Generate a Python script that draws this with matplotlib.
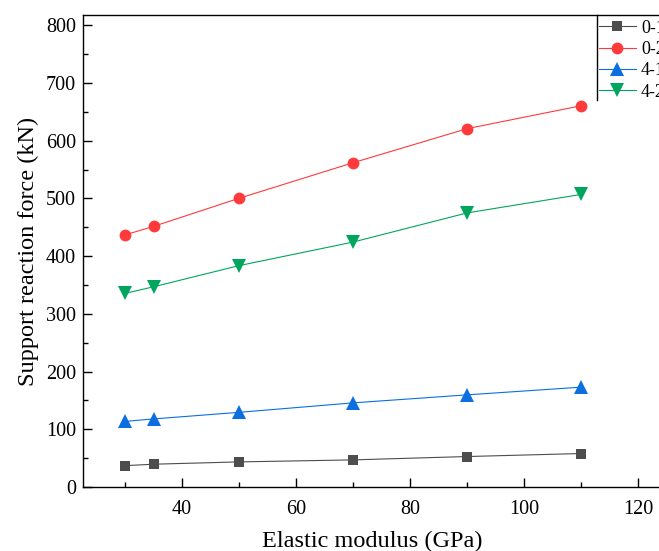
import matplotlib
matplotlib.use("Agg")
import matplotlib.pyplot as plt
from matplotlib.lines import Line2D
from matplotlib.ticker import MultipleLocator

plt.rcParams['font.family'] = ['Liberation Serif', 'DejaVu Serif']

modulus = [30, 35, 50, 70, 90, 110]
s01 = [37, 39.5, 43.5, 47, 52.8, 58]
s02 = [437, 451.7, 500.4, 562, 621, 660.7]
s41 = [113.7, 118, 129.4, 145.8, 159.7, 173]
s42 = [335.6, 347, 383.7, 424.5, 475, 507]
labels = ["0-1", "0-2", "4-1", "4-2"]

W, H = 659, 551
fig = plt.figure(figsize=(W / 100, H / 100), dpi=100)
x0, y0 = 83, 487
xmin, xmax = 22.6, 124.0
ppu = (638 - 125) / 90.0
right_px = 125 + (xmax - 30) * ppu
ax = fig.add_axes([x0 / W, 1 - y0 / H, (right_px - x0) / W, (y0 - 15) / H])

styles = [
    (s01, "#4d4d4d", "s", 7.5),
    (s02, "#ff3a3a", "o", 8.5),
    (s41, "#0b6fe0", "^", 9.5),
    (s42, "#00a65e", "v", 9.5),
]
for (vals, c, m, ms), lab in zip(styles, labels):
    ax.plot(modulus, vals, color=c, lw=0.8, marker=m, ms=ms,
            markeredgewidth=0, label=lab)

ax.set_xlim(xmin, xmax)
ax.set_ylim(0, 818)
ax.xaxis.set_major_locator(MultipleLocator(20))
ax.xaxis.set_minor_locator(MultipleLocator(10))
ax.yaxis.set_major_locator(MultipleLocator(100))
ax.yaxis.set_minor_locator(MultipleLocator(50))
ax.tick_params(which='both', direction='in', width=1.0, labelsize=14.5,
               top=False, right=False)
ax.tick_params(which='major', length=6.5)
ax.tick_params(which='minor', length=3.3)
ax.tick_params(axis='x', which='major', pad=9)
ax.tick_params(axis='y', which='major', pad=5)
for sp in ax.spines.values():
    sp.set_linewidth(1.0)
ax.spines['right'].set_visible(False)

ax.set_xlabel("Elastic modulus (GPa)", fontsize=17.5, labelpad=9)
ax.set_ylabel("Support reaction force (kN)", fontsize=17.5, labelpad=5)

leg = fig.legend(loc='upper left', bbox_to_anchor=(595 / W, 1 - 16 / H),
                 frameon=False, fontsize=13, handlelength=2.05,
                 handletextpad=0.3, labelspacing=0.24, borderaxespad=0,
                 borderpad=0.2)
fig.add_artist(Line2D([597 / W, 597 / W], [1 - 15 / H, 1 - 100 / H],
                      transform=fig.transFigure, color='k', lw=1.0))

fig.savefig("out.png", dpi=100)
